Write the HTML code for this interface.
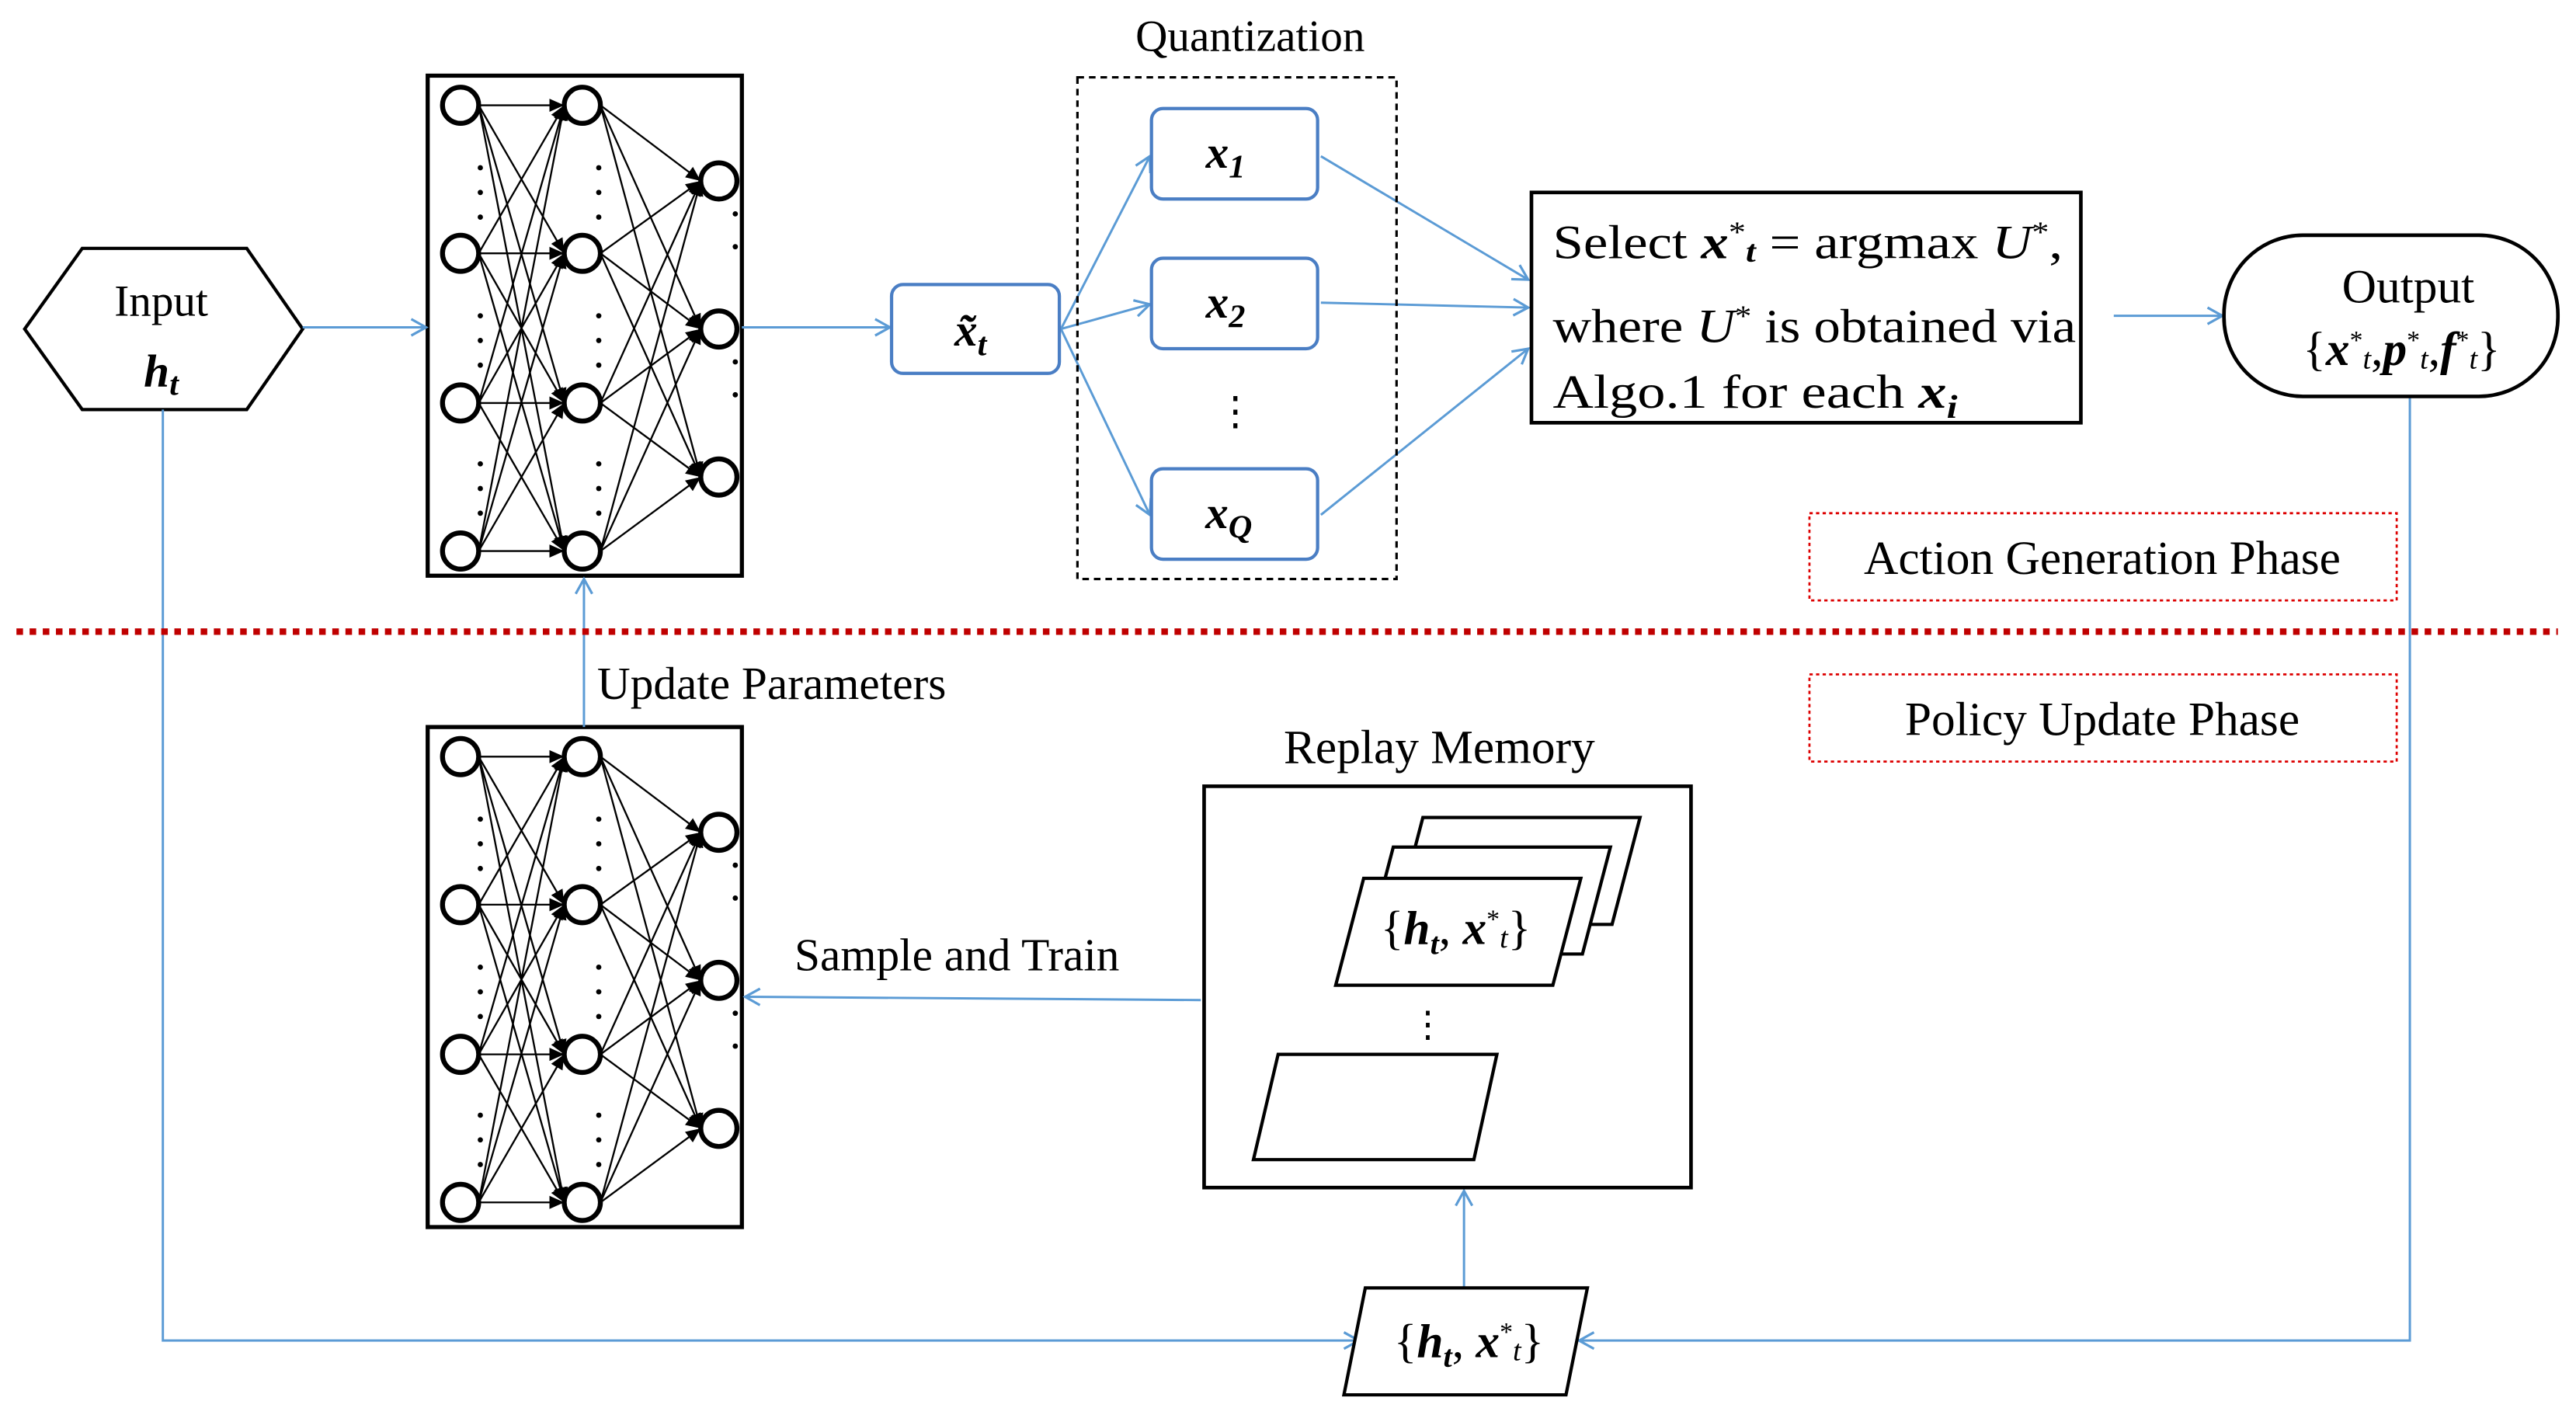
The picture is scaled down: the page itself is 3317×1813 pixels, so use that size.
<!DOCTYPE html>
<html><head><meta charset="utf-8"><style>
html,body{margin:0;padding:0;background:#fff}
svg{display:block}
text{font-family:"Liberation Serif",serif;fill:#000}
.m{font-style:italic;font-weight:bold}
</style></head><body>
<svg width="3317" height="1813" viewBox="0 0 1566 856" preserveAspectRatio="none" xmlns="http://www.w3.org/2000/svg">
<defs>
<marker id="a" markerWidth="12" markerHeight="12" refX="10" refY="6" orient="auto" markerUnits="userSpaceOnUse"><path d="M1,1 L10,6 L1,11" fill="none" stroke="#5b9bd5" stroke-width="1.5"/></marker>
<marker id="k" markerWidth="10" markerHeight="10" refX="9" refY="5" orient="auto" markerUnits="userSpaceOnUse"><path d="M0,1 L9,5 L0,9z" fill="#000"/></marker>
<g id="net">
<rect x="260" y="46" width="191" height="304" fill="#fff" stroke="#000" stroke-width="2.5"/>
<g stroke="#000" stroke-width="1.1" marker-end="url(#k)">
<line x1="291" y1="64" x2="343" y2="64"/><line x1="291" y1="64" x2="343" y2="154"/><line x1="291" y1="64" x2="343" y2="245"/><line x1="291" y1="64" x2="343" y2="335"/>
<line x1="291" y1="154" x2="343" y2="64"/><line x1="291" y1="154" x2="343" y2="154"/><line x1="291" y1="154" x2="343" y2="245"/><line x1="291" y1="154" x2="343" y2="335"/>
<line x1="291" y1="245" x2="343" y2="64"/><line x1="291" y1="245" x2="343" y2="154"/><line x1="291" y1="245" x2="343" y2="245"/><line x1="291" y1="245" x2="343" y2="335"/>
<line x1="291" y1="335" x2="343" y2="64"/><line x1="291" y1="335" x2="343" y2="154"/><line x1="291" y1="335" x2="343" y2="245"/><line x1="291" y1="335" x2="343" y2="335"/>
<line x1="365" y1="64" x2="426" y2="110"/><line x1="365" y1="64" x2="426" y2="200"/><line x1="365" y1="64" x2="426" y2="290"/>
<line x1="365" y1="154" x2="426" y2="110"/><line x1="365" y1="154" x2="426" y2="200"/><line x1="365" y1="154" x2="426" y2="290"/>
<line x1="365" y1="245" x2="426" y2="110"/><line x1="365" y1="245" x2="426" y2="200"/><line x1="365" y1="245" x2="426" y2="290"/>
<line x1="365" y1="335" x2="426" y2="110"/><line x1="365" y1="335" x2="426" y2="200"/><line x1="365" y1="335" x2="426" y2="290"/>
</g>
<g fill="#fff" stroke="#000" stroke-width="3">
<circle cx="280" cy="64" r="11"/><circle cx="280" cy="154" r="11"/><circle cx="280" cy="245" r="11"/><circle cx="280" cy="335" r="11"/>
<circle cx="354" cy="64" r="11"/><circle cx="354" cy="154" r="11"/><circle cx="354" cy="245" r="11"/><circle cx="354" cy="335" r="11"/>
<circle cx="437" cy="110" r="11"/><circle cx="437" cy="200" r="11"/><circle cx="437" cy="290" r="11"/>
</g>
<g fill="#000">
<circle cx="292" cy="102" r="1.6"/><circle cx="292" cy="117" r="1.6"/><circle cx="292" cy="132" r="1.6"/>
<circle cx="292" cy="192" r="1.6"/><circle cx="292" cy="207" r="1.6"/><circle cx="292" cy="222" r="1.6"/>
<circle cx="292" cy="282" r="1.6"/><circle cx="292" cy="297" r="1.6"/><circle cx="292" cy="312" r="1.6"/>
<circle cx="364" cy="102" r="1.6"/><circle cx="364" cy="117" r="1.6"/><circle cx="364" cy="132" r="1.6"/>
<circle cx="364" cy="192" r="1.6"/><circle cx="364" cy="207" r="1.6"/><circle cx="364" cy="222" r="1.6"/>
<circle cx="364" cy="282" r="1.6"/><circle cx="364" cy="297" r="1.6"/><circle cx="364" cy="312" r="1.6"/>
<circle cx="447" cy="130" r="1.6"/><circle cx="447" cy="150" r="1.6"/><circle cx="447" cy="220" r="1.6"/><circle cx="447" cy="240" r="1.6"/>
</g>
</g>
</defs>
<rect width="1566" height="856" fill="#fff"/>
<use href="#net"/>
<use href="#net" transform="translate(0,396)"/>

<polygon points="15,200 50,151 150,151 184,200 150,249 50,249" fill="#fff" stroke="#000" stroke-width="2"/>
<text x="98" y="192" font-size="27" text-anchor="middle">Input</text>
<text x="98" y="235" font-size="28" text-anchor="middle" class="m">h<tspan font-size="20" dy="5">t</tspan></text>

<g stroke="#5b9bd5" stroke-width="1.4" fill="none" marker-end="url(#a)">
<line x1="184" y1="199" x2="259" y2="199"/>
<line x1="451" y1="199" x2="541" y2="199"/>
<line x1="645" y1="200" x2="699" y2="95"/>
<line x1="645" y1="200" x2="699" y2="185"/>
<line x1="645" y1="200" x2="699" y2="313"/>
<line x1="803" y1="95" x2="929" y2="170"/>
<line x1="803" y1="184" x2="929" y2="187"/>
<line x1="803" y1="313" x2="929" y2="212"/>
<line x1="1285" y1="192" x2="1351" y2="192"/>
<line x1="355" y1="442" x2="355" y2="352"/>
<line x1="730" y1="608" x2="453" y2="606"/>
<line x1="890" y1="783" x2="890" y2="724"/>
<polyline points="99,249 99,815 826,815"/>
<polyline points="1465,241 1465,815 960,815"/>
</g>

<rect x="542" y="173" width="102" height="54" rx="7" fill="#fff" stroke="#4a7ec4" stroke-width="2"/>
<text x="590" y="210" font-size="28" text-anchor="middle" class="m">x̃<tspan font-size="20" dy="6">t</tspan></text>

<rect x="655" y="47" width="194" height="305" fill="none" stroke="#000" stroke-width="1.5" stroke-dasharray="4,3"/>
<text x="760" y="31" font-size="27" text-anchor="middle">Quantization</text>
<rect x="700" y="66" width="101" height="55" rx="7" fill="#fff" stroke="#4a7ec4" stroke-width="2"/>
<text x="745" y="102" font-size="28" text-anchor="middle" class="m">x<tspan font-size="20" dy="6">1</tspan></text>
<rect x="700" y="157" width="101" height="55" rx="7" fill="#fff" stroke="#4a7ec4" stroke-width="2"/>
<text x="745" y="193" font-size="28" text-anchor="middle" class="m">x<tspan font-size="20" dy="6">2</tspan></text>
<text x="751" y="258" font-size="24" text-anchor="middle">⋮</text>
<rect x="700" y="285" width="101" height="55" rx="7" fill="#fff" stroke="#4a7ec4" stroke-width="2"/>
<text x="747" y="321" font-size="28" text-anchor="middle" class="m">x<tspan font-size="20" dy="6">Q</tspan></text>

<rect x="931" y="117" width="334" height="140" fill="#fff" stroke="#000" stroke-width="2.2"/>
<text x="944" y="157" font-size="29" textLength="310" lengthAdjust="spacingAndGlyphs">Select <tspan class="m">x</tspan><tspan font-size="18" dy="-10">*</tspan><tspan font-size="19" dy="12" class="m">t</tspan><tspan dy="-2"> = argmax </tspan><tspan font-style="italic">U</tspan><tspan font-size="18" dy="-10">*</tspan><tspan dy="10">,</tspan></text>
<text x="944" y="208" font-size="29" textLength="318" lengthAdjust="spacingAndGlyphs">where <tspan font-style="italic">U</tspan><tspan font-size="18" dy="-10">*</tspan><tspan dy="10"> is obtained via</tspan></text>
<text x="944" y="248" font-size="29" textLength="246" lengthAdjust="spacingAndGlyphs">Algo.1 for each  <tspan class="m">x</tspan><tspan font-size="20" dy="6" class="m">i</tspan></text>

<rect x="1352" y="143" width="203" height="98" rx="48" fill="#fff" stroke="#000" stroke-width="2.2"/>
<text x="1464" y="184" font-size="29" text-anchor="middle">Output</text>
<text x="1460" y="222" font-size="29" text-anchor="middle">{<tspan class="m">x</tspan><tspan font-size="16" dy="-10">*</tspan><tspan font-size="18" dy="12" font-style="italic">t</tspan><tspan dy="-2">,</tspan><tspan class="m">p</tspan><tspan font-size="16" dy="-10">*</tspan><tspan font-size="18" dy="12" font-style="italic">t</tspan><tspan dy="-2">,</tspan><tspan class="m">f</tspan><tspan font-size="16" dy="-10">*</tspan><tspan font-size="18" dy="12" font-style="italic">t</tspan><tspan dy="-2">}</tspan></text>

<line x1="10" y1="384" x2="1555" y2="384" stroke="#c00000" stroke-width="4" stroke-dasharray="4,4"/>
<rect x="1100" y="312" width="357" height="53" fill="none" stroke="#d00" stroke-width="1.3" stroke-dasharray="2,2"/>
<text x="1278" y="349" font-size="29" text-anchor="middle">Action Generation Phase</text>
<rect x="1100" y="410" width="357" height="53" fill="none" stroke="#d00" stroke-width="1.3" stroke-dasharray="2,2"/>
<text x="1278" y="447" font-size="29" text-anchor="middle">Policy Update Phase</text>

<text x="363" y="425" font-size="28">Update Parameters</text>
<text x="483" y="590" font-size="28">Sample and Train</text>

<text x="875" y="464" font-size="29" text-anchor="middle">Replay Memory</text>
<rect x="732" y="478" width="296" height="244" fill="#fff" stroke="#000" stroke-width="2.2"/>
<polygon points="865,497 997,497 980,562 848,562" fill="#fff" stroke="#000" stroke-width="2"/>
<polygon points="847,515 979,515 962,580 830,580" fill="#fff" stroke="#000" stroke-width="2"/>
<polygon points="829,534 961,534 944,599 812,599" fill="#fff" stroke="#000" stroke-width="2"/>
<text x="885" y="574" font-size="29" text-anchor="middle">{<tspan class="m">h</tspan><tspan font-size="19" dy="6" class="m">t</tspan><tspan dy="-6">, </tspan><tspan class="m">x</tspan><tspan font-size="16" dy="-10">*</tspan><tspan font-size="18" dy="12" font-style="italic">t</tspan><tspan dy="-2">}</tspan></text>
<text x="868" y="630" font-size="22" text-anchor="middle">⋮</text>
<polygon points="777,641 910,641 896,705 762,705" fill="#fff" stroke="#000" stroke-width="2"/>

<polygon points="830,783 965,783 952,848 817,848" fill="#fff" stroke="#000" stroke-width="2"/>
<text x="893" y="825" font-size="29" text-anchor="middle">{<tspan class="m">h</tspan><tspan font-size="19" dy="6" class="m">t</tspan><tspan dy="-6">, </tspan><tspan class="m">x</tspan><tspan font-size="16" dy="-10">*</tspan><tspan font-size="18" dy="12" font-style="italic">t</tspan><tspan dy="-2">}</tspan></text>
</svg>
</body></html>
